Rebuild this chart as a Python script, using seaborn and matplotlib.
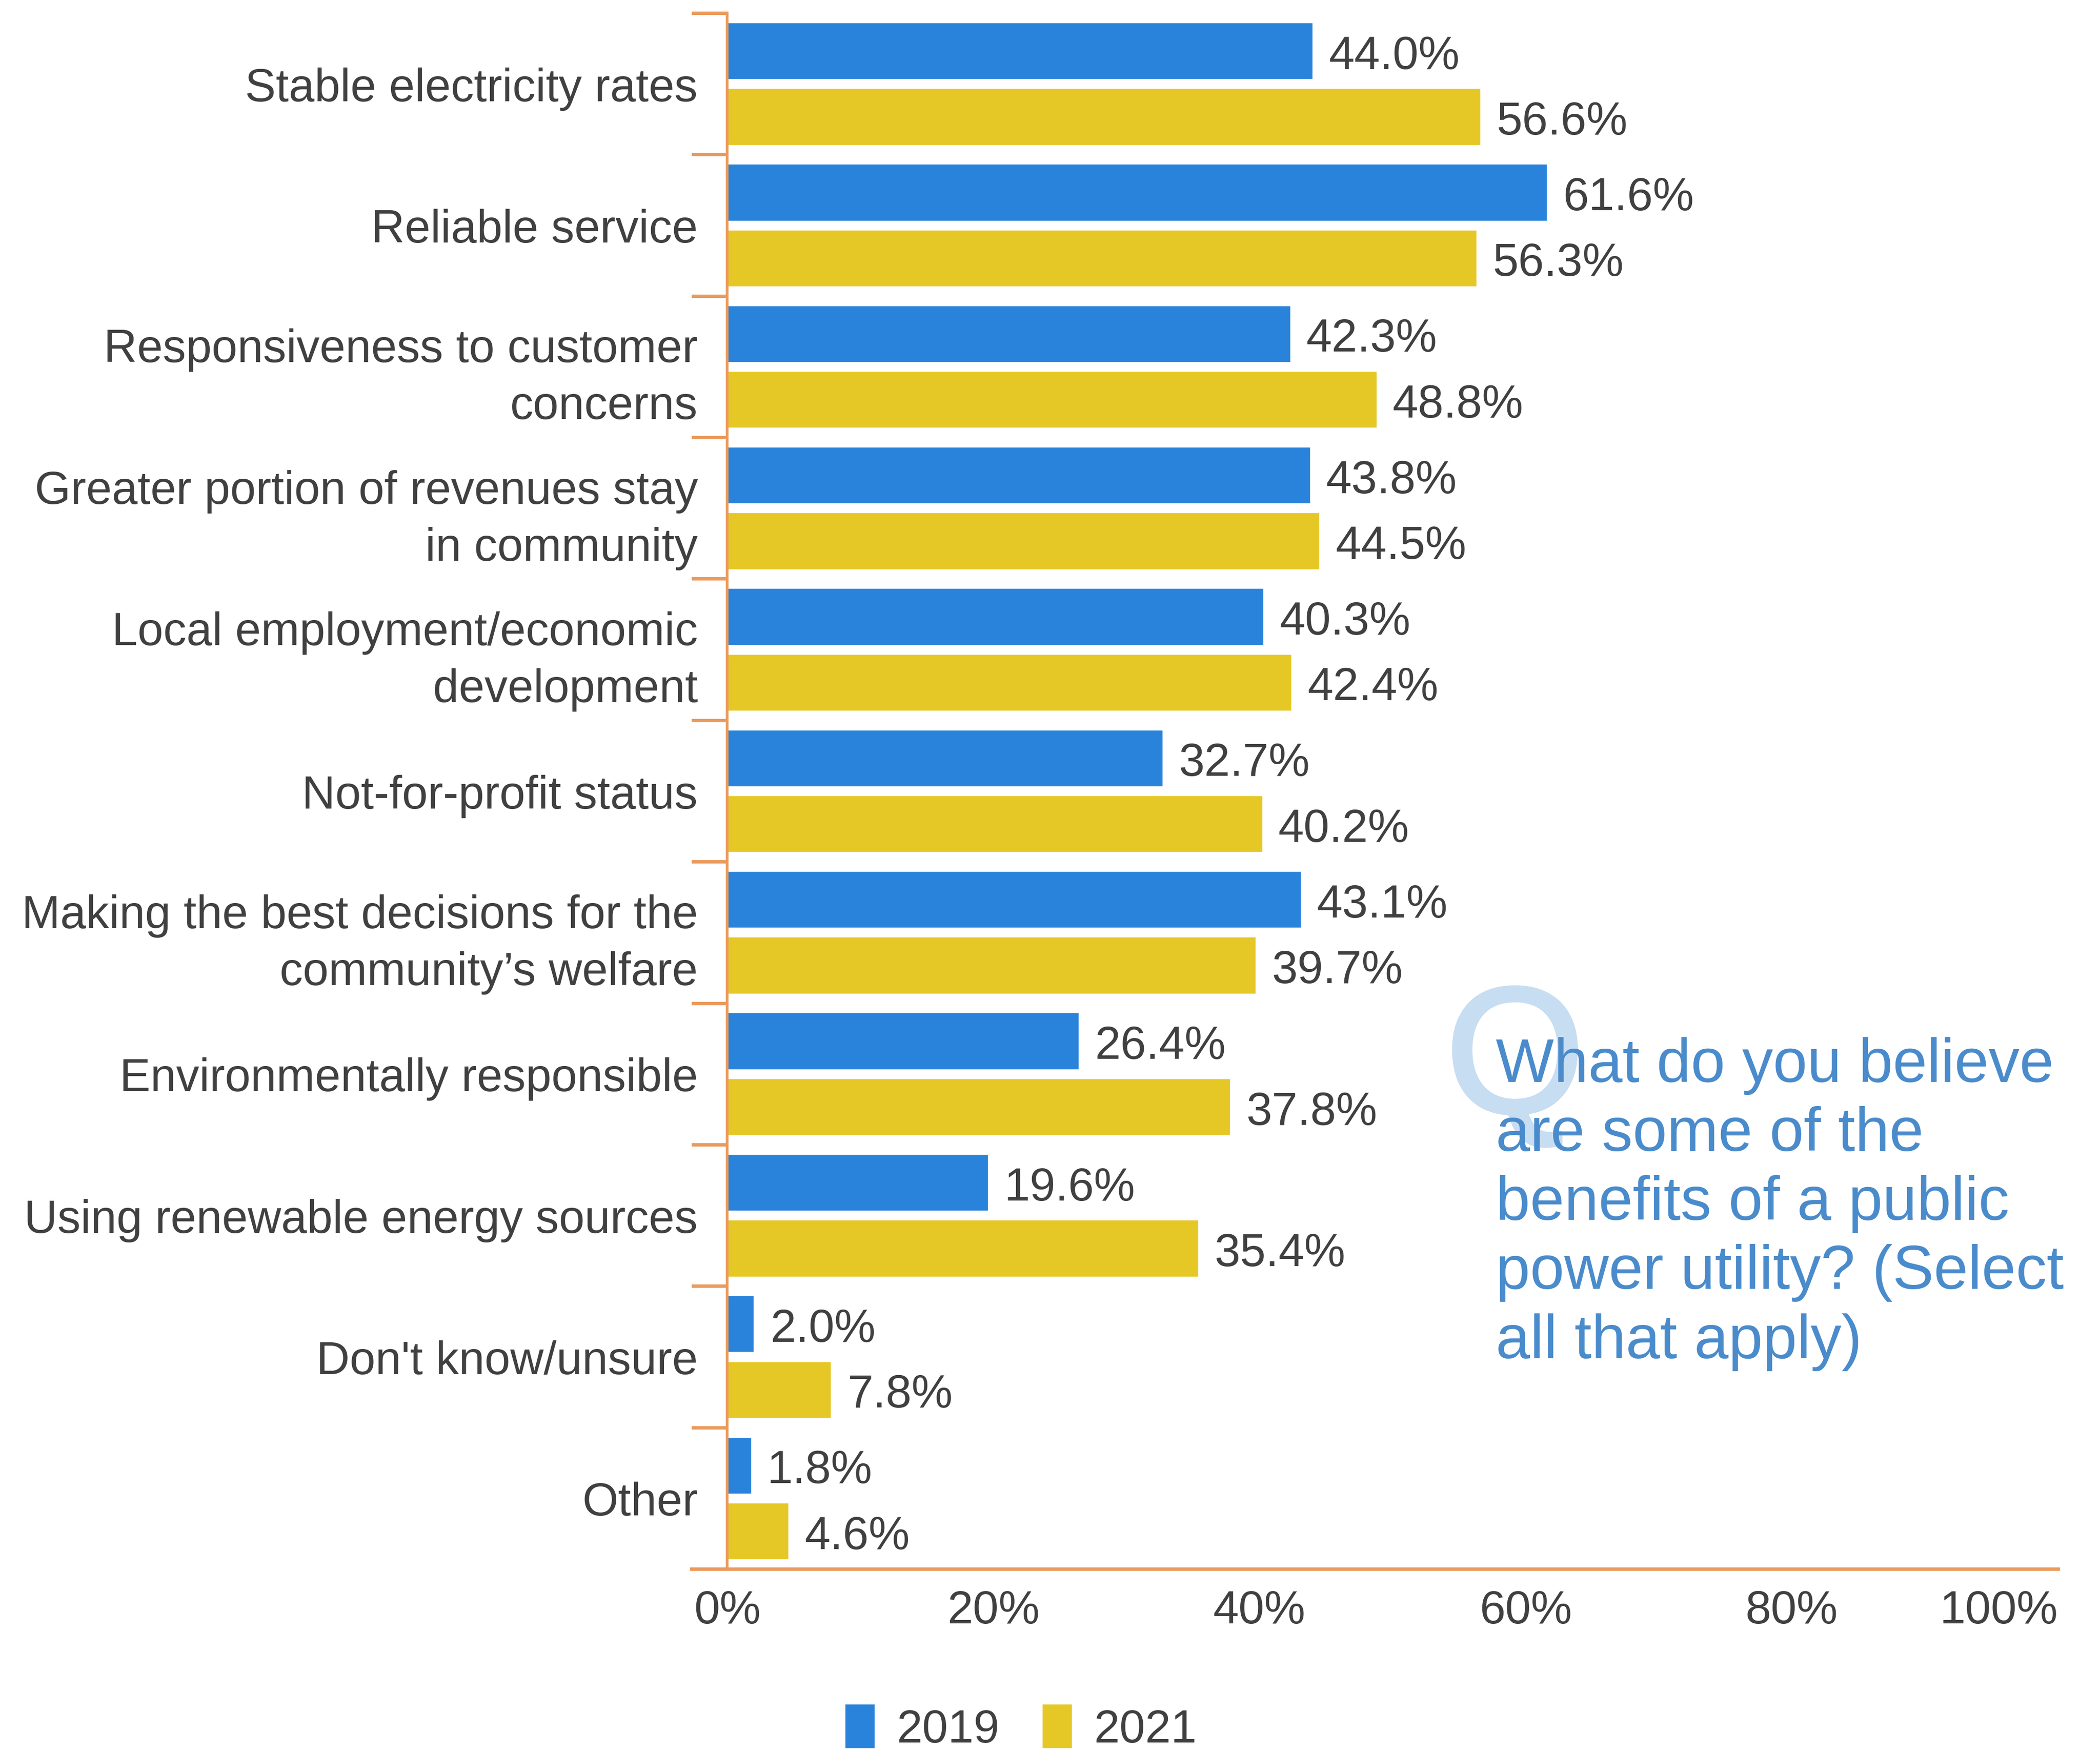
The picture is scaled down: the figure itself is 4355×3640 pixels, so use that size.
import numpy as np
import pandas as pd
import matplotlib
matplotlib.use("Agg")
import matplotlib.pyplot as plt
import matplotlib.patheffects as pe
import seaborn as sns

# Survey answers, top to bottom
categories = [
    "Stable electricity rates",
    "Reliable service",
    "Responsiveness to customer\nconcerns",
    "Greater portion of revenues stay\nin community",
    "Local employment/economic\ndevelopment",
    "Not-for-profit status",
    "Making the best decisions for the\ncommunity\u2019s welfare",
    "Environmentally responsible",
    "Using renewable energy sources",
    "Don't know/unsure",
    "Other",
]
years = ["2019", "2021"]
share_2019 = [44.0, 61.6, 42.3, 43.8, 40.3, 32.7, 43.1, 26.4, 19.6, 2.0, 1.8]
share_2021 = [56.6, 56.3, 48.8, 44.5, 42.4, 40.2, 39.7, 37.8, 35.4, 7.8, 4.6]
x_ticks = [0, 20, 40, 60, 80, 100]
x_tick_labels = ["0%", "20%", "40%", "60%", "80%", "100%"]
question = ("What do you believe\nare some of the\nbenefits of a public\n"
            "power utility? (Select\nall that apply)")

df = pd.DataFrame({
    "benefit": categories * 2,
    "year": [years[0]] * len(categories) + [years[1]] * len(categories),
    "share": share_2019 + share_2021,
})

BLUE = "#2A83DA"
YELLOW = "#E5C826"
ORANGE = "#EA9A5C"
TEXT = "#404040"
Q_BLUE = "#4A8BCC"
Q_LIGHT = "#C7DDF1"
FS = 69

sns.set_theme(style="white")
plt.rcParams["font.family"] = ["Liberation Sans", "DejaVu Sans"]

fig = plt.figure(figsize=(43.55, 36.41), dpi=100)
ax = fig.add_axes([0.3463, 0.106, 0.980 - 0.3463, 0.9923 - 0.106])

sns.barplot(
    data=df, y="benefit", x="share", hue="year",
    order=categories, hue_order=years,
    palette=[BLUE, YELLOW], saturation=1,
    width=0.93, gap=0.14, orient="h", ax=ax,
)

ax.set_xlim(0, 100)
ax.set_ylim(len(categories) - 0.5, -0.5)
ax.set_xlabel("")
ax.set_ylabel("")

# Spines
for side in ["top", "right"]:
    ax.spines[side].set_visible(False)
ax.spines["left"].set_color(ORANGE)
ax.spines["left"].set_linewidth(4)
ax.spines["bottom"].set_color(ORANGE)
ax.spines["bottom"].set_linewidth(5)
ax.spines["bottom"].set_bounds(-2.7, 100)

# Category separators as minor ticks
ax.set_yticks(np.arange(-0.5, len(categories), 1.0), minor=True)
ax.tick_params(axis="y", which="minor", length=53, width=5, color=ORANGE,
               left=True, direction="out")
ax.tick_params(axis="y", which="major", length=0, pad=44,
               labelsize=FS, labelcolor=TEXT)
for lbl in ax.get_yticklabels():
    lbl.set_linespacing(1.4)

ax.set_xticks(x_ticks)
ax.set_xticklabels(x_tick_labels)
ax.tick_params(axis="x", which="major", length=0, pad=30,
               labelsize=FS, labelcolor=TEXT)
ax.get_xticklabels()[-1].set_horizontalalignment("right")

# Value labels, sitting a touch below each bar's centre line
for container in ax.containers:
    for ann in ax.bar_label(container, fmt="%.1f%%", padding=24,
                            fontsize=FS, color=TEXT):
        ann.xyann = (24, -8)

# Legend
handles, labels = ax.get_legend_handles_labels()
ax.legend(handles, labels, loc="center", bbox_to_anchor=(0.486, 0.0155),
          bbox_transform=fig.transFigure, ncol=2, frameon=False,
          fontsize=FS, handlelength=0.65, handleheight=1.1,
          handletextpad=0.47, columnspacing=0.92, labelcolor=TEXT,
          borderpad=0)

# Question annotation with a large pale "Q" behind it
fig.text(0.6882, 0.4400, "Q", fontsize=268, color=Q_LIGHT,
         ha="left", va="top", zorder=1,
         path_effects=[pe.withStroke(linewidth=5, foreground=Q_LIGHT)])
fig.text(0.7123, 0.4093, question, fontsize=92, color=Q_BLUE,
         ha="left", va="top", linespacing=1.25, zorder=2)

fig.savefig("out.png", dpi=100, facecolor="white")
